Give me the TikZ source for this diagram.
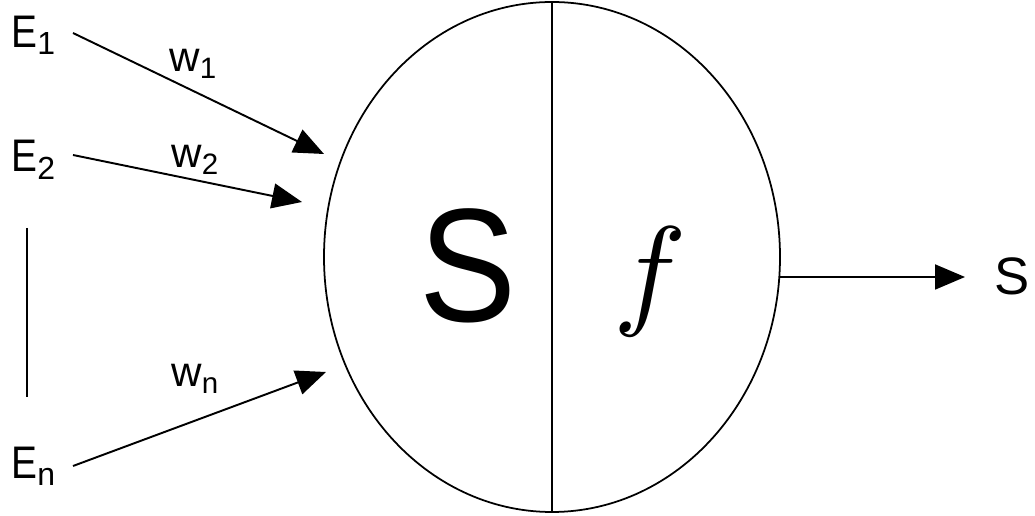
\documentclass[tikz,border=0pt]{standalone}
\usepackage{graphicx}
\usepackage{fontspec}
\setmainfont{Liberation Sans}
\usetikzlibrary{arrows.meta,shapes.geometric}
\begin{document}
\begin{tikzpicture}[x=0.02cm,y=-0.02cm,
  lbl/.style={font=\fontsize{26}{30}\selectfont, inner sep=0pt, anchor=base west},
  wlbl/.style={font=\fontsize{24}{28}\selectfont, inner sep=0pt, anchor=base west},
  conn/.style={line width=1.1pt, -{Triangle[length=0.6cm,width=0.5cm]}},
  plain/.style={line width=1pt}]
\useasboundingbox (0,0) rectangle (1035,516);
% neuron
\node[draw, line width=1pt, ellipse, minimum width=456*0.02cm, minimum height=510*0.02cm, inner sep=0pt] (cell) at (552,257) {};
\draw[plain] (cell.north) -- (cell.south);
\node[inner sep=0pt, anchor=base, font=\fontsize{92}{96}\selectfont] (sum) at (468,322) {\scalebox{0.9}[1]{S}};
\node[inner sep=0pt] (fn) at (650,282) {\scalebox{7}{$f$}};
% inputs
\node[lbl] (e1) at (11,48) {\scalebox{0.85}[1]{E}\textsubscript{1}};
\node[lbl] (e2) at (11,172) {\scalebox{0.85}[1]{E}\textsubscript{2}};
\node[lbl] (en) at (11,479) {\scalebox{0.85}[1]{E}\textsubscript{n}};
\coordinate (t1) at (324,154);
\coordinate (t2) at (302,202);
\coordinate (tn) at (326,372);
\coordinate (s1) at (73,33);
\coordinate (s2) at (73,155);
\coordinate (sn) at (73,466);
\draw[conn] (s1) -- (t1);
\draw[conn] (s2) -- (t2);
\draw[conn] (sn) -- (tn);
\node[wlbl] (w1) at (169,72) {w\textsubscript{1}};
\node[wlbl] (w2) at (171,168) {w\textsubscript{2}};
\node[wlbl] (wn) at (171,387) {w\textsubscript{n}};
\coordinate (d1) at (27,228);
\coordinate (d2) at (27,397);
\draw[plain] (d1) -- (d2);
% output
\coordinate (o1) at (779,277);
\coordinate (o2) at (965,277);
\node[inner sep=0pt, anchor=base west, font=\fontsize{30}{34}\selectfont] (out) at (994,295) {S};
\draw[conn] (o1) -- (o2);
\end{tikzpicture}
\end{document}
